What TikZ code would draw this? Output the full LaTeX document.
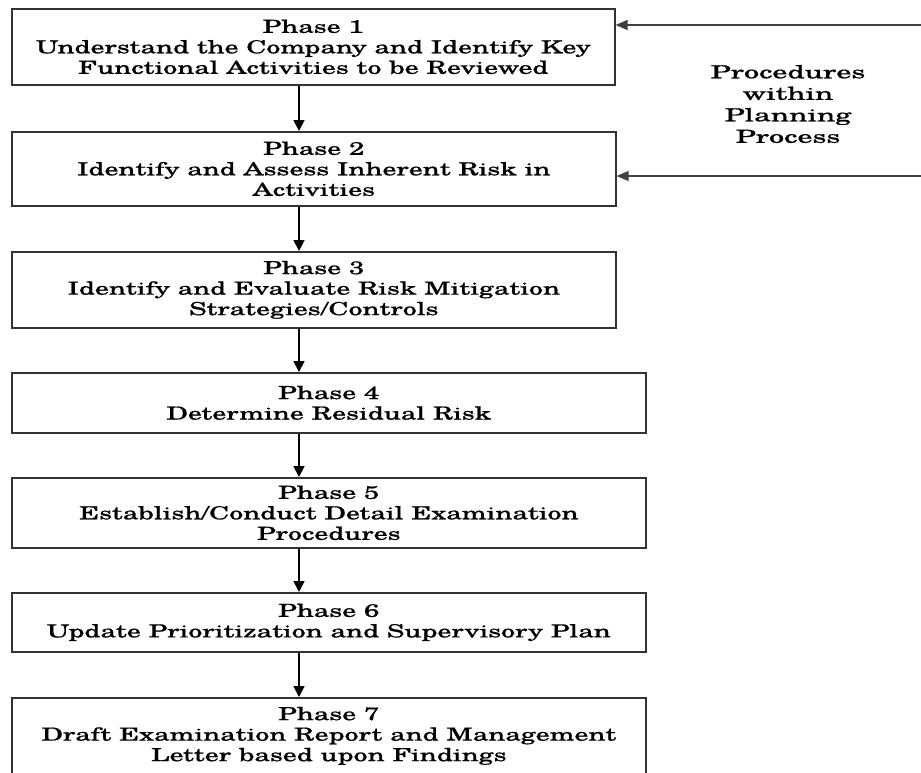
\documentclass[tikz,border=0pt]{standalone}
\usepackage{fontspec}
\setmainfont{TeX Gyre Schola}[FakeStretch=1.55, FakeBold=0.8]
\newfontfamily\lblfont{TeX Gyre Schola}[FakeStretch=1.67, FakeBold=0.8]
\usetikzlibrary{arrows.meta}
\begin{document}
\begin{tikzpicture}[x=1pt,y=-1pt,
  phase/.style={draw=black!80, line width=1.6pt, anchor=north west, inner sep=0pt,
    align=center, font=\fontsize{18}{20.5}\selectfont},
  flow/.style={-{Triangle[length=11pt,width=11pt]}, line width=1.7pt},
  feed/.style={-{Triangle[length=12pt,width=10pt]}, line width=1.3pt, draw=black!75, fill=black!75},
  lbl/.style={align=center, font=\lblfont\fontsize{18}{21.5}\selectfont}]
\clip (0,0) rectangle (921,772);
\fill[white] (0,0) rectangle (921,772);
\node[phase, minimum width=603pt, minimum height=76pt] (b1) at (11,8)
  {Phase 1\\Understand the Company and Identify Key\\Functional Activities to be Reviewed};
\node[phase, minimum width=604pt, minimum height=74pt] (b2) at (11,131)
  {Phase 2\\Identify and Assess Inherent Risk in\\Activities};
\node[phase, minimum width=604pt, minimum height=76pt] (b3) at (11,251)
  {Phase 3\\Identify and Evaluate Risk Mitigation\\Strategies/Controls};
\node[phase, minimum width=634pt, minimum height=60pt] (b4) at (11,372)
  {Phase 4\\Determine Residual Risk};
\node[phase, minimum width=634pt, minimum height=70pt] (b5) at (11,477)
  {Phase 5\\Establish/Conduct Detail Examination\\Procedures};
\node[phase, minimum width=634pt, minimum height=59pt] (b6) at (11,592)
  {Phase 6\\Update Prioritization and Supervisory Plan};
\node[phase, minimum width=634pt, minimum height=76pt] (b7) at (11,697)
  {Phase 7\\Draft Examination Report and Management\\Letter based upon Findings};
\node[lbl] (lab) at (788,104) {Procedures\\within\\Planning\\Process};
\coordinate (ax) at (299,0);
\draw[flow] (b1.south -| ax) -- (b2.north -| ax);
\draw[flow] (b2.south -| ax) -- (b3.north -| ax);
\draw[flow] (b3.south -| ax) -- (b4.north -| ax);
\draw[flow] (b4.south -| ax) -- (b5.north -| ax);
\draw[flow] (b5.south -| ax) -- (b6.north -| ax);
\draw[flow] (b6.south -| ax) -- (b7.north -| ax);
\coordinate (f1) at (921,25);
\coordinate (f2) at (921,176);
\draw[feed] (f1) -- (f1 -| b1.east);
\draw[feed] (f2) -- (f2 -| b2.east);
\end{tikzpicture}
\end{document}
